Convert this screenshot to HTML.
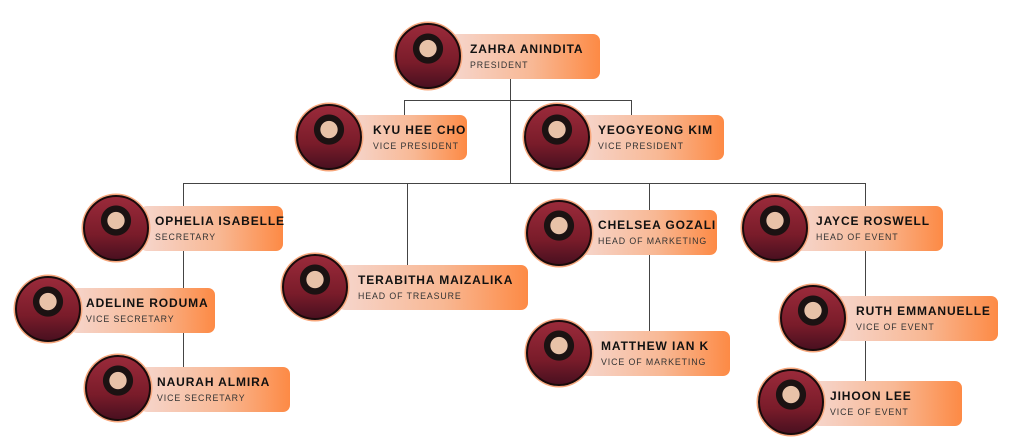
<!DOCTYPE html>
<html><head><meta charset="utf-8"><style>
body{margin:0;width:1024px;height:445px;background:#fff;position:relative;overflow:hidden;font-family:"Liberation Sans",sans-serif}
.l{position:absolute;background:#444}
.b{position:absolute;height:45px;border-radius:7px;background:linear-gradient(90deg,#f6d6cd 0%,#f8b894 55%,#fd8a45 100%)}
.b .n{position:absolute;left:var(--x,22px);top:8px;font-weight:bold;font-size:12px;letter-spacing:0.9px;color:#111;white-space:nowrap}
.b .r{position:absolute;left:var(--x,22px);top:26px;font-size:8.8px;letter-spacing:0.9px;color:#333;white-space:nowrap}
.c{position:absolute;width:62px;height:62px;border-radius:50%;border:2px solid #1a0a0a;box-shadow:0 0 0 1.5px #f7a77c;background:radial-gradient(circle at 50% 38%,#e8c2a8 0 17%,#1b1212 18% 30%,transparent 31%),linear-gradient(180deg,#9a2a3a 0%,#7a1c2a 60%,#4a1020 100%)}
</style></head><body>
<div class="l" style="left:510px;top:79px;width:1px;height:105px"></div>
<div class="l" style="left:404px;top:100px;width:228px;height:1px"></div>
<div class="l" style="left:404px;top:100px;width:1px;height:15px"></div>
<div class="l" style="left:631px;top:100px;width:1px;height:15px"></div>
<div class="l" style="left:183px;top:183px;width:683px;height:1px"></div>
<div class="l" style="left:183px;top:183px;width:1px;height:184px"></div>
<div class="l" style="left:407px;top:183px;width:1px;height:82px"></div>
<div class="l" style="left:649px;top:183px;width:1px;height:148px"></div>
<div class="l" style="left:865px;top:183px;width:1px;height:198px"></div>

<div class="b" style="left:450px;top:34px;width:150px;--x:20px"><div class="n">ZAHRA ANINDITA</div><div class="r">PRESIDENT</div></div>
<div class="c" style="left:395px;top:23px"></div>
<div class="b" style="left:350px;top:115px;width:117px;--x:23px"><div class="n">KYU HEE CHO</div><div class="r">VICE PRESIDENT</div></div>
<div class="c" style="left:296px;top:104px"></div>
<div class="b" style="left:580px;top:115px;width:144px;--x:18px"><div class="n">YEOGYEONG KIM</div><div class="r">VICE PRESIDENT</div></div>
<div class="c" style="left:524px;top:104px"></div>
<div class="b" style="left:140px;top:206px;width:143px;--x:15px"><div class="n">OPHELIA ISABELLE</div><div class="r">SECRETARY</div></div>
<div class="c" style="left:83px;top:195px"></div>
<div class="b" style="left:70px;top:288px;width:145px;--x:16px"><div class="n">ADELINE RODUMA</div><div class="r">VICE SECRETARY</div></div>
<div class="c" style="left:15px;top:276px"></div>
<div class="b" style="left:140px;top:367px;width:150px;--x:17px"><div class="n">NAURAH ALMIRA</div><div class="r">VICE SECRETARY</div></div>
<div class="c" style="left:85px;top:355px"></div>
<div class="b" style="left:338px;top:265px;width:190px;--x:20px"><div class="n">TERABITHA MAIZALIKA</div><div class="r">HEAD OF TREASURE</div></div>
<div class="c" style="left:282px;top:254px"></div>
<div class="b" style="left:580px;top:210px;width:137px;--x:18px"><div class="n">CHELSEA GOZALI</div><div class="r">HEAD OF MARKETING</div></div>
<div class="c" style="left:526px;top:200px"></div>
<div class="b" style="left:580px;top:331px;width:150px;--x:21px"><div class="n">MATTHEW IAN K</div><div class="r">VICE OF MARKETING</div></div>
<div class="c" style="left:526px;top:320px"></div>
<div class="b" style="left:795px;top:206px;width:148px;--x:21px"><div class="n">JAYCE ROSWELL</div><div class="r">HEAD OF EVENT</div></div>
<div class="c" style="left:742px;top:195px"></div>
<div class="b" style="left:835px;top:296px;width:163px;--x:21px"><div class="n">RUTH EMMANUELLE</div><div class="r">VICE OF EVENT</div></div>
<div class="c" style="left:780px;top:285px"></div>
<div class="b" style="left:812px;top:381px;width:150px;--x:18px"><div class="n">JIHOON LEE</div><div class="r">VICE OF EVENT</div></div>
<div class="c" style="left:758px;top:369px"></div>
</body></html>
